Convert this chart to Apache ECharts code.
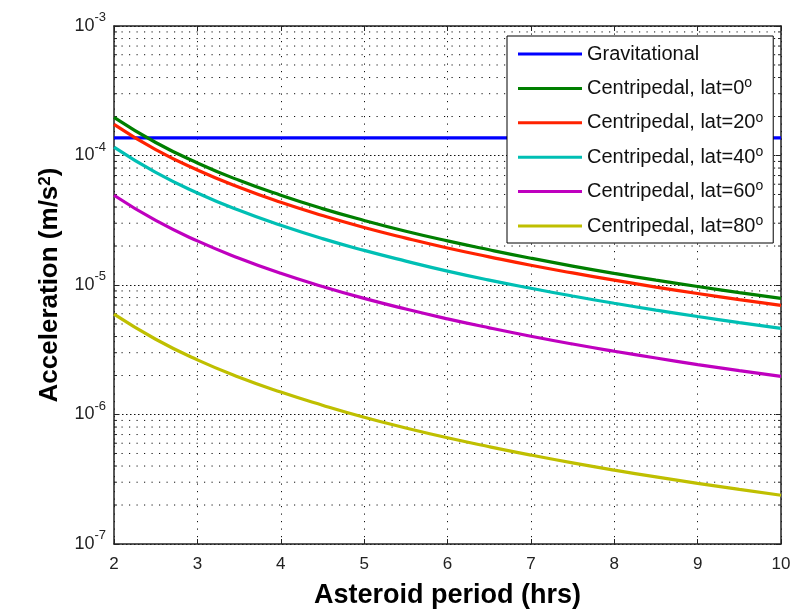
<!DOCTYPE html>
<html>
<head>
<meta charset="utf-8">
<script src="https://cdn.jsdelivr.net/npm/echarts@6/dist/echarts.min.js"></script>
<style>
  html, body { margin: 0; padding: 0; background: #fff; }
  #chart { width: 803px; height: 614px; }
</style>
</head>
<body>
<div id="chart"></div>
<script>
// Asteroid rotation period (hours)
const periods = [2, 2.5, 3, 3.5, 4, 4.5, 5, 5.5, 6, 6.5, 7, 7.5, 8, 8.5, 9, 9.5, 10];

// Gravitational acceleration at the surface (constant)
const gravPeriods = [2, 10];
const gravAccel = [1.37e-4, 1.37e-4];

// Centripetal acceleration (m/s^2) at several latitudes
const centLat0  = [1.97e-4, 1.26e-4, 8.76e-5, 6.43e-5, 4.93e-5, 3.89e-5, 3.15e-5, 2.60e-5, 2.19e-5, 1.87e-5, 1.61e-5, 1.40e-5, 1.23e-5, 1.09e-5, 9.73e-6, 8.73e-6, 7.88e-6];
const centLat20 = [1.74e-4, 1.11e-4, 7.73e-5, 5.68e-5, 4.35e-5, 3.44e-5, 2.78e-5, 2.30e-5, 1.93e-5, 1.65e-5, 1.42e-5, 1.24e-5, 1.09e-5, 9.64e-6, 8.60e-6, 7.71e-6, 6.96e-6];
const centLat40 = [1.16e-4, 7.40e-5, 5.14e-5, 3.77e-5, 2.89e-5, 2.28e-5, 1.85e-5, 1.53e-5, 1.28e-5, 1.09e-5, 9.43e-6, 8.22e-6, 7.23e-6, 6.40e-6, 5.71e-6, 5.12e-6, 4.62e-6];
const centLat60 = [4.93e-5, 3.15e-5, 2.19e-5, 1.61e-5, 1.23e-5, 9.74e-6, 7.88e-6, 6.52e-6, 5.48e-6, 4.67e-6, 4.02e-6, 3.50e-6, 3.08e-6, 2.73e-6, 2.43e-6, 2.18e-6, 1.97e-6];
const centLat80 = [5.95e-6, 3.81e-6, 2.64e-6, 1.94e-6, 1.49e-6, 1.18e-6, 9.52e-7, 7.87e-7, 6.61e-7, 5.64e-7, 4.86e-7, 4.23e-7, 3.72e-7, 3.30e-7, 2.94e-7, 2.64e-7, 2.38e-7];

// Axis ranges and ticks
const xMin = 2, xMax = 10, xStep = 1;
const yMin = 1e-7, yMax = 1e-3;
const yMinorTicks = [
  2e-7, 3e-7, 4e-7, 5e-7, 6e-7, 7e-7, 8e-7, 9e-7,
  2e-6, 3e-6, 4e-6, 5e-6, 6e-6, 7e-6, 8e-6, 9e-6,
  2e-5, 3e-5, 4e-5, 5e-5, 6e-5, 7e-5, 8e-5, 9e-5,
  2e-4, 3e-4, 4e-4, 5e-4, 6e-4, 7e-4, 8e-4, 9e-4
];

const seriesNames = ['Gravitational', 'Centripedal, lat=0', 'Centripedal, lat=20', 'Centripedal, lat=40', 'Centripedal, lat=60', 'Centripedal, lat=80'];
const seriesColors = ['#0000ff', '#007f00', '#ff2200', '#00bfb4', '#bf00bf', '#bfbf00'];

const FONT = '"Liberation Sans", Arial, Helvetica, sans-serif';
const AXIS_COLOR = '#222';

const pairs = (xs, ys) => xs.map((x, i) => [x, ys[i]]);

const curves = [
  pairs(gravPeriods, gravAccel),
  pairs(periods, centLat0),
  pairs(periods, centLat20),
  pairs(periods, centLat40),
  pairs(periods, centLat60),
  pairs(periods, centLat80)
];

const lineSeries = curves.map((data, i) => ({
  name: seriesNames[i],
  type: 'line',
  data: data,
  smooth: true,
  showSymbol: false,
  symbol: 'none',
  silent: true,
  z: 5,
  lineStyle: { color: seriesColors[i], width: 3.2 },
  itemStyle: { color: seriesColors[i] }
}));

// Log-scale minor grid lines and minor ticks on both vertical edges
const minorSeries = {
  type: 'custom',
  silent: true,
  z: 1,
  clip: false,
  encode: { x: 0, y: 1 },
  data: yMinorTicks.map(v => [xMin, v]),
  renderItem: function (params, api) {
    const v = api.value(1);
    const p0 = api.coord([xMin, v]);
    const p1 = api.coord([xMax, v]);
    const tick = 3;
    return {
      type: 'group',
      children: [
        {
          type: 'line',
          shape: { x1: p0[0], y1: p0[1], x2: p1[0], y2: p1[1] },
          style: { stroke: '#111', lineWidth: 1, lineDash: [1.2, 6.3] }
        },
        {
          type: 'line',
          shape: { x1: p0[0], y1: p0[1], x2: p0[0] + tick, y2: p0[1] },
          style: { stroke: AXIS_COLOR, lineWidth: 1 }
        },
        {
          type: 'line',
          shape: { x1: p1[0] - tick, y1: p1[1], x2: p1[0], y2: p1[1] },
          style: { stroke: AXIS_COLOR, lineWidth: 1 }
        }
      ]
    };
  }
};

const tickFont = { fontFamily: FONT, color: '#222' };

const chart = echarts.init(document.getElementById('chart'), null, { renderer: 'canvas' });

chart.setOption({
  animation: false,
  backgroundColor: '#fff',
  grid: { left: 114, right: 22, top: 26, bottom: 65, containLabel: false },
  legend: {
    data: seriesNames,
    orient: 'vertical',
    left: 507,
    top: 36,
    padding: [6, 10, 5, 11],
    itemGap: 10.4,
    itemWidth: 64,
    itemHeight: 3,
    icon: 'rect',
    backgroundColor: '#fff',
    borderColor: '#000',
    borderWidth: 1,
    selectedMode: false,
    z: 10,
    formatter: function (name) {
      const m = name.match(/^(.*lat=)(\d+)$/);
      if (m) return '{b|' + m[1] + m[2] + '}{s|o}';
      return '{b|' + name + '}';
    },
    textStyle: {
      fontFamily: FONT,
      fontSize: 20,
      lineHeight: 24,
      color: '#111',
      rich: {
        b: { fontFamily: FONT, fontSize: 20, color: '#111', lineHeight: 24 },
        s: { fontFamily: FONT, fontSize: 14, color: '#111', lineHeight: 13, verticalAlign: 'top' }
      }
    }
  },
  xAxis: [
    {
      type: 'value',
      min: xMin,
      max: xMax,
      interval: xStep,
      position: 'bottom',
      name: 'Asteroid period (hrs)',
      nameLocation: 'middle',
      nameGap: 38,
      nameTextStyle: { fontFamily: FONT, fontSize: 27, fontWeight: 'bold', color: '#000' },
      axisLine: { show: true, onZero: false, lineStyle: { color: AXIS_COLOR, width: 1.5 } },
      axisTick: { show: true, inside: true, length: 5, lineStyle: { color: AXIS_COLOR, width: 1 } },
      axisLabel: Object.assign({ fontSize: 17, margin: 12 }, tickFont),
      splitLine: { show: true, lineStyle: { color: '#111', width: 1, type: [1.2, 6.3] } }
    },
    {
      type: 'value',
      min: xMin,
      max: xMax,
      interval: xStep,
      position: 'top',
      axisLine: { show: true, onZero: false, lineStyle: { color: AXIS_COLOR, width: 1.5 } },
      axisTick: { show: true, inside: true, length: 5, lineStyle: { color: AXIS_COLOR, width: 1 } },
      axisLabel: { show: false },
      splitLine: { show: false }
    }
  ],
  yAxis: [
    {
      type: 'log',
      logBase: 10,
      min: yMin,
      max: yMax,
      position: 'left',
      name: 'Acceleration (m/s{s|2})',
      nameLocation: 'middle',
      nameRotate: 90,
      nameGap: 51,
      nameTextStyle: {
        fontFamily: FONT, fontSize: 26, fontWeight: 'bold', color: '#000',
        rich: {
          s: { fontFamily: FONT, fontSize: 17, fontWeight: 'bold', color: '#000', verticalAlign: 'top', lineHeight: 16 }
        }
      },
      axisLine: { show: true, onZero: false, lineStyle: { color: AXIS_COLOR, width: 1.5 } },
      axisTick: { show: true, inside: true, length: 5, lineStyle: { color: AXIS_COLOR, width: 1 } },
      axisLabel: {
        margin: 8,
        formatter: function (value) {
          const e = Math.round(Math.log10(value));
          return '{b|10}{s|' + e + '}';
        },
        rich: {
          b: { fontFamily: FONT, fontSize: 18, color: '#222', lineHeight: 30 },
          s: { fontFamily: FONT, fontSize: 13, color: '#222', lineHeight: 12, verticalAlign: 'top' }
        }
      },
      splitLine: { show: true, lineStyle: { color: '#111', width: 1, type: [1.5, 2.5] } }
    },
    {
      type: 'log',
      logBase: 10,
      min: yMin,
      max: yMax,
      position: 'right',
      axisLine: { show: true, onZero: false, lineStyle: { color: AXIS_COLOR, width: 1.5 } },
      axisTick: { show: true, inside: true, length: 5, lineStyle: { color: AXIS_COLOR, width: 1 } },
      axisLabel: { show: false },
      splitLine: { show: false }
    }
  ],
  series: [minorSeries].concat(lineSeries)
});
</script>
</body>
</html>
